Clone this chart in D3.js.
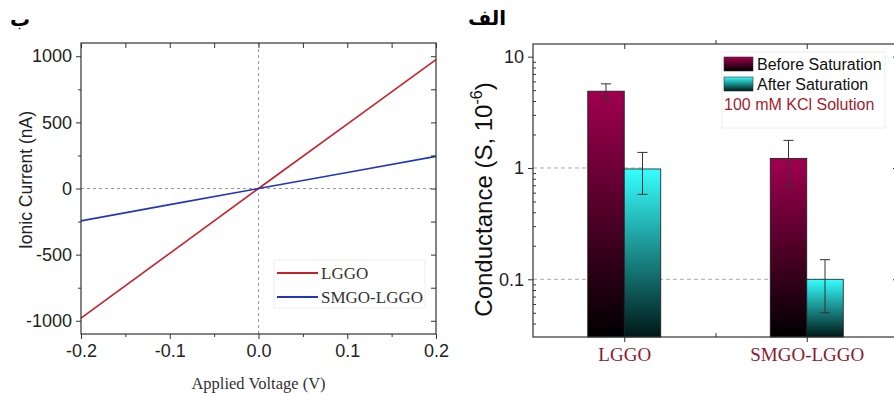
<!DOCTYPE html>
<html>
<head>
<meta charset="utf-8">
<script src="https://cdn.jsdelivr.net/npm/d3@7"></script>
<style>
  body { margin: 0; background: #fff; }
  svg { display: block; }
</style>
</head>
<body>
<svg id="chart" width="894" height="396"></svg>
<script>
// left panel: I-V curves
const voltage = [-0.2, -0.1, 0, 0.1, 0.2];
const lggoCurrent = [-980, -490, 0, 487, 975];
const smgoCurrent = [-245, -122, 0, 121, 243];
const ivSeries = ["LGGO", "SMGO-LGGO"];
const ivXTicks = [-0.2, -0.1, 0.0, 0.1, 0.2];
const ivYTicks = [-1000, -500, 0, 500, 1000];

// right panel: conductance bars
const groups = ["LGGO", "SMGO-LGGO"];
const beforeSat = [4.9, 1.22];
const beforeErr = [0.8, 0.55];
const afterSat = [0.98, 0.1];
const afterErr = [0.4, 0.05];
const condTicks = [0.1, 1, 10];
const refLines = [1, 0.1];

const sans = "'Liberation Sans', Arial, sans-serif";
const serif = "'Liberation Serif', 'Times New Roman', serif";
const frameColor = "#333";
// plain hyphen for negatives, like the original
const hy = f => d => f(d).replace("\u2212", "-");

const svg = d3.select("#chart");
const defs = svg.append("defs");

function vGrad(id, top, bottom) {
  const g = defs.append("linearGradient").attr("id", id)
    .attr("x1", 0).attr("y1", 0).attr("x2", 0).attr("y2", 1);
  g.append("stop").attr("offset", "0%").attr("stop-color", top);
  g.append("stop").attr("offset", "100%").attr("stop-color", bottom);
}
vGrad("gradBefore", "#a0004f", "#000000");
vGrad("gradAfter", "#36ffff", "#001818");

// ---------- left panel ----------
const L = { left: 81, right: 436, top: 43, bottom: 334 };
const x1 = d3.scaleLinear().domain([-0.2, 0.2]).range([L.left, L.right]);
const y1 = d3.scaleLinear().domain([-1100, 1100]).range([L.bottom, L.top]);

const left = svg.append("g");

// zero reference lines
left.append("line")
  .attr("x1", x1(0)).attr("x2", x1(0)).attr("y1", L.top).attr("y2", L.bottom)
  .attr("stroke", "#999").attr("stroke-dasharray", "3,3");
left.append("line")
  .attr("x1", L.left).attr("x2", L.right).attr("y1", y1(0)).attr("y2", y1(0))
  .attr("stroke", "#999").attr("stroke-dasharray", "3,3");

const ivColors = ["#c8202a", "#2436b8"];
const ivData = [lggoCurrent, smgoCurrent];
const lineGen = d3.line().x((d, i) => x1(voltage[i])).y(d => y1(d));
ivData.forEach((s, k) => {
  left.append("path")
    .attr("d", lineGen(s))
    .attr("fill", "none")
    .attr("stroke", ivColors[k])
    .attr("stroke-width", 1.6);
});

// frame
left.append("rect")
  .attr("x", L.left).attr("y", L.top)
  .attr("width", L.right - L.left).attr("height", L.bottom - L.top)
  .attr("fill", "none").attr("stroke", frameColor).attr("stroke-width", 1.2);

// axes: bottom/left outward, top/right inward
const xMinor = d3.range(-0.15, 0.2, 0.1);
const yMinor = [-750, -250, 250, 750];
function tickStyle(sel) { sel.attr("stroke", frameColor).attr("stroke-width", 1); }

left.append("g").attr("transform", `translate(0,${L.bottom})`)
  .call(d3.axisBottom(x1).tickValues(ivXTicks).tickSize(5).tickSizeOuter(0).tickPadding(5)
    .tickFormat(hy(d3.format(".1f"))))
  .call(g => g.select(".domain").remove())
  .call(g => g.selectAll("text").attr("font-family", sans).attr("font-size", 18).attr("fill", "#222"));
left.append("g").attr("transform", `translate(0,${L.bottom})`)
  .call(d3.axisBottom(x1).tickValues(xMinor).tickSize(3).tickFormat(""))
  .call(g => g.select(".domain").remove());
left.append("g").attr("transform", `translate(0,${L.top})`)
  .call(d3.axisBottom(x1).tickValues(ivXTicks.concat(xMinor)).tickSize(5).tickFormat(""))
  .call(g => g.select(".domain").remove());

left.append("g").attr("transform", `translate(${L.left},0)`)
  .call(d3.axisLeft(y1).tickValues(ivYTicks).tickSize(5).tickPadding(4).tickFormat(hy(d3.format("d"))))
  .call(g => g.select(".domain").remove())
  .call(g => g.selectAll("text").attr("font-family", sans).attr("font-size", 18).attr("fill", "#222"));
left.append("g").attr("transform", `translate(${L.left},0)`)
  .call(d3.axisLeft(y1).tickValues(yMinor).tickSize(3).tickFormat(""))
  .call(g => g.select(".domain").remove());
left.append("g").attr("transform", `translate(${L.right},0)`)
  .call(d3.axisLeft(y1).tickValues(ivYTicks.concat(yMinor)).tickSize(5).tickFormat(""))
  .call(g => g.select(".domain").remove());
left.selectAll(".tick line").call(tickStyle);

// titles
left.append("text")
  .attr("transform", `translate(32,180) rotate(-90)`)
  .attr("text-anchor", "middle")
  .attr("font-family", sans).attr("font-size", 17.5).attr("fill", "#222")
  .text("Ionic Current (nA)");
left.append("text")
  .attr("x", x1(0)).attr("y", 389)
  .attr("text-anchor", "middle")
  .attr("font-family", serif).attr("font-size", 16.5).attr("fill", "#333")
  .text("Applied Voltage (V)");

// legend
const lg = left.append("g").attr("transform", "translate(274,260)");
lg.append("rect").attr("width", 151).attr("height", 48)
  .attr("fill", "#fff").attr("stroke", "#eee");
ivSeries.forEach((name, i) => {
  const yy = 13 + i * 24;
  lg.append("line").attr("x1", 3).attr("x2", 44).attr("y1", yy).attr("y2", yy)
    .attr("stroke", ivColors[i]).attr("stroke-width", 2);
  lg.append("text").attr("x", 47).attr("y", yy + 6)
    .attr("font-family", serif).attr("font-size", 17).attr("fill", "#333")
    .text(name);
});

// panel labels
const arabic = "'DejaVu Sans', sans-serif";
svg.append("text").attr("x", 10).attr("y", 26)
  .attr("font-family", arabic).attr("font-weight", "bold")
  .attr("font-size", 20).text("ب");

// ---------- right panel ----------
const R = { left: 533, right: 898, top: 44, bottom: 337 };
const x2 = d3.scaleLinear().domain([0.5, 2.5]).range([R.left, R.right]);
const y2 = d3.scaleLog().domain([0.0303, 13]).range([R.bottom, R.top]);
const barW = 0.2;

const right = svg.append("g");

// dashed reference lines to the after-saturation bars
refLines.forEach((v, i) => {
  right.append("line")
    .attr("x1", R.left).attr("x2", x2(i + 1 + barW / 2))
    .attr("y1", y2(v)).attr("y2", y2(v))
    .attr("stroke", "#aaa").attr("stroke-dasharray", "4,3");
});

const bars = groups.map((g, i) => [
  { c: i + 1, off: -barW, v: beforeSat[i], e: beforeErr[i], fill: "url(#gradBefore)" },
  { c: i + 1, off: 0, v: afterSat[i], e: afterErr[i], fill: "url(#gradAfter)" }
]).flat();

right.selectAll("rect.bar").data(bars).enter().append("rect")
  .attr("class", "bar")
  .attr("x", d => x2(d.c + d.off))
  .attr("width", d => x2(d.c + d.off + barW) - x2(d.c + d.off))
  .attr("y", d => y2(d.v))
  .attr("height", d => R.bottom - y2(d.v))
  .attr("fill", d => d.fill)
  .attr("stroke", "#1a1a1a").attr("stroke-width", 0.8);

// error bars
const eb = right.selectAll("g.err").data(bars).enter().append("g").attr("class", "err")
  .attr("stroke", "#333").attr("stroke-width", 1);
eb.append("line")
  .attr("x1", d => x2(d.c + d.off + barW / 2)).attr("x2", d => x2(d.c + d.off + barW / 2))
  .attr("y1", d => y2(d.v + d.e)).attr("y2", d => y2(d.v - d.e));
[1, -1].forEach(s => {
  eb.append("line")
    .attr("x1", d => x2(d.c + d.off + barW / 2) - 5).attr("x2", d => x2(d.c + d.off + barW / 2) + 5)
    .attr("y1", d => y2(d.v + s * d.e)).attr("y2", d => y2(d.v + s * d.e));
});

// frame
right.append("rect")
  .attr("x", R.left).attr("y", R.top)
  .attr("width", R.right - R.left).attr("height", R.bottom - R.top)
  .attr("fill", "none").attr("stroke", frameColor).attr("stroke-width", 1.2);

// log axis
const logMinor = [];
[0.01, 0.1, 1].forEach(dec => d3.range(2, 10).forEach(m => {
  const v = dec * m;
  if (v > 0.0303 && v < 13) logMinor.push(v);
}));
right.append("g").attr("transform", `translate(${R.left},0)`)
  .call(d3.axisLeft(y2).tickValues(condTicks).tickSize(5).tickPadding(4).tickFormat(d => d3.format("~g")(d)))
  .call(g => g.select(".domain").remove())
  .call(g => g.selectAll("text").attr("font-family", sans).attr("font-size", 18).attr("fill", "#222"));
right.append("g").attr("transform", `translate(${R.left},0)`)
  .call(d3.axisRight(y2).tickValues(logMinor).tickSize(3).tickFormat(""))
  .call(g => g.select(".domain").remove());
right.append("g").attr("transform", `translate(${R.right},0)`)
  .call(d3.axisLeft(y2).tickValues(condTicks).tickSize(5).tickFormat(""))
  .call(g => g.select(".domain").remove());

// category axis
right.append("g").attr("transform", `translate(0,${R.bottom})`)
  .call(d3.axisBottom(x2).tickValues([1, 2]).tickSize(5).tickPadding(6).tickFormat((d, i) => groups[i]))
  .call(g => g.select(".domain").remove())
  .call(g => g.selectAll("text").attr("font-family", serif).attr("font-size", 19).attr("fill", "#8b1a2e"));
right.append("g").attr("transform", `translate(0,${R.bottom})`)
  .call(d3.axisTop(x2).tickValues([1.5]).tickSize(4).tickFormat(""))
  .call(g => g.select(".domain").remove());
right.append("g").attr("transform", `translate(0,${R.top})`)
  .call(d3.axisBottom(x2).tickValues([1, 2]).tickSize(5).tickFormat(""))
  .call(g => g.select(".domain").remove());
right.append("g").attr("transform", `translate(0,${R.top})`)
  .call(d3.axisTop(x2).tickValues([1.5]).tickSize(4).tickFormat(""))
  .call(g => g.select(".domain").remove());
right.selectAll(".tick line").call(tickStyle);

// y title with superscript
const yt = right.append("text")
  .attr("transform", `translate(492,${(R.top + R.bottom) / 2 + 9}) rotate(-90)`)
  .attr("text-anchor", "middle")
  .attr("font-family", sans).attr("font-size", 24).attr("fill", "#111");
yt.append("tspan").text("Conductance (S, 10");
yt.append("tspan").attr("dy", -10).attr("font-size", 16).text("-6");
yt.append("tspan").attr("dy", 10).text(")");

// legend
const lg2 = right.append("g").attr("transform", "translate(722,52)");
lg2.append("rect").attr("width", 163).attr("height", 76)
  .attr("fill", "#fff").attr("stroke", "#eee");
const condLegend = [
  { name: "Before Saturation", fill: "url(#gradBefore)" },
  { name: "After Saturation", fill: "url(#gradAfter)" }
];
condLegend.forEach((d, i) => {
  lg2.append("rect").attr("x", 2).attr("y", 5 + i * 20).attr("width", 29).attr("height", 14)
    .attr("fill", d.fill).attr("stroke", "#333").attr("stroke-width", 0.6);
  lg2.append("text").attr("x", 35).attr("y", 18 + i * 20)
    .attr("font-family", sans).attr("font-size", 16).attr("fill", "#111")
    .text(d.name);
});
lg2.append("text").attr("x", 2).attr("y", 58)
  .attr("font-family", sans).attr("font-size", 16).attr("fill", "#a11d2e")
  .text("100 mM KCl Solution");

svg.append("text").attr("x", 468).attr("y", 25)
  .attr("font-family", arabic).attr("font-weight", "bold")
  .attr("font-size", 20).text("الف");
</script>
</body>
</html>
